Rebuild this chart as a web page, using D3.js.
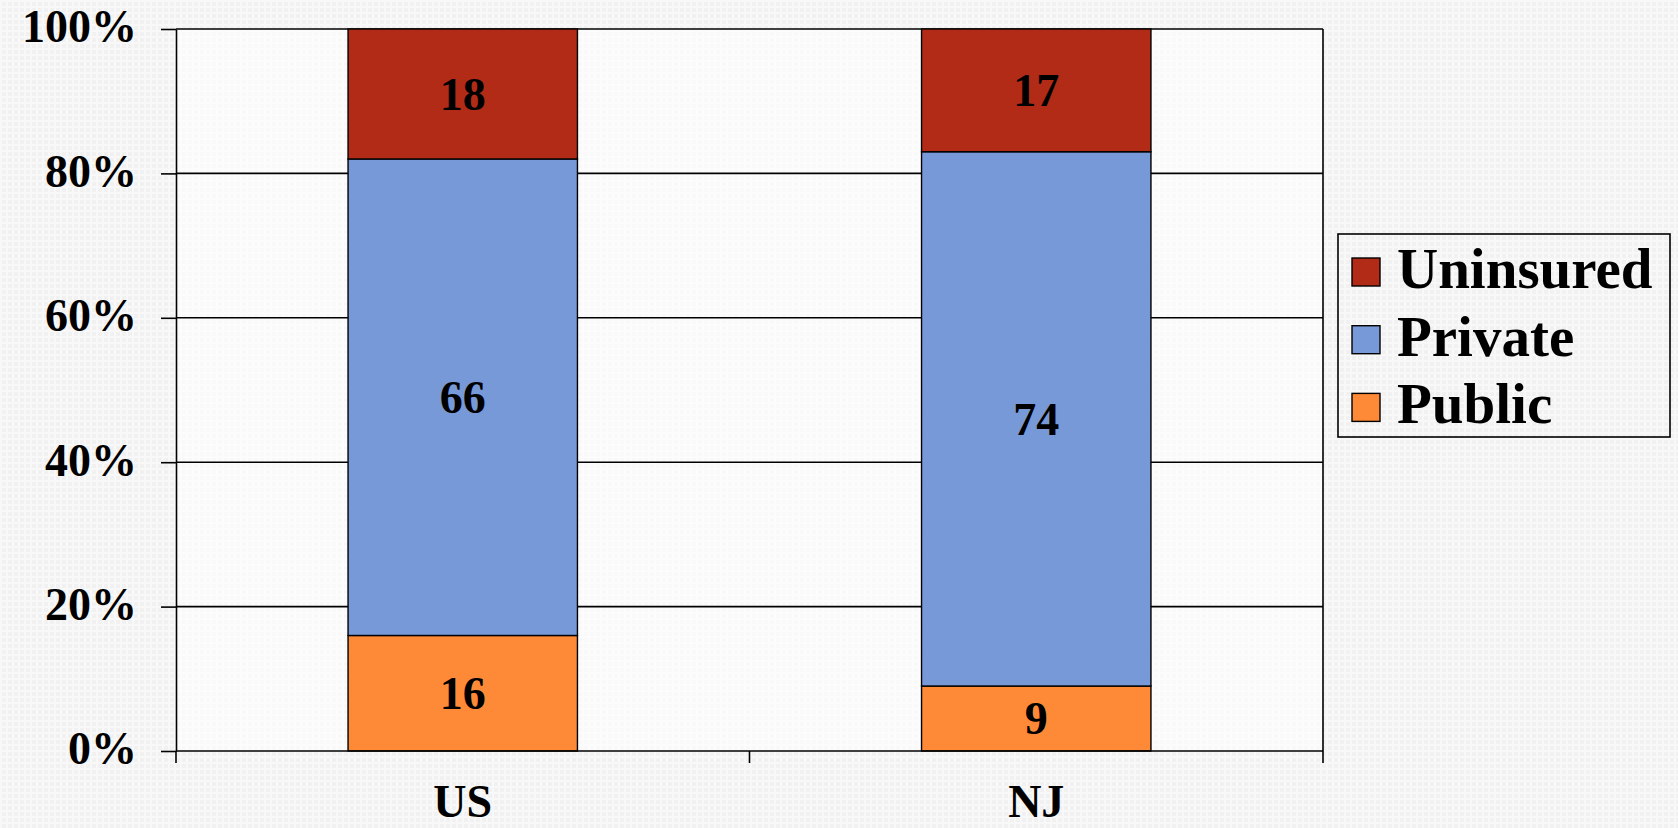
<!DOCTYPE html>
<html>
<head>
<meta charset="utf-8">
<script src="https://cdn.jsdelivr.net/npm/d3@7"></script>
<style>
  body { margin: 0; background: #f2f2f2; }
  text { font-family: "Liberation Serif", "Times New Roman", serif; font-weight: bold; fill: #000; }
</style>
</head>
<body>
<div id="chart"></div>
<script>
// data
var categories = ["US", "NJ"];
var seriesNames = ["Public", "Private", "Uninsured"];
var publicVals = [16, 9];
var privateVals = [66, 74];
var uninsuredVals = [18, 17];
var yTicks = [0, 20, 40, 60, 80, 100];
var colors = { Public: "#fe8a37", Private: "#7899d8", Uninsured: "#b22b17" };

var W = 1678, H = 828;
var margin = { top: 29, right: 355, bottom: 77, left: 176 },
    width = W - margin.left - margin.right,
    height = H - margin.top - margin.bottom;

var svgRoot = d3.select("#chart").append("svg")
    .attr("width", W)
    .attr("height", H);

// light textured background
var defs = svgRoot.append("defs");
var pat = defs.append("pattern")
    .attr("id", "tex")
    .attr("width", 6).attr("height", 6)
    .attr("patternUnits", "userSpaceOnUse");
pat.append("rect").attr("width", 6).attr("height", 6).attr("fill", "#f1f1f1");
pat.append("rect").attr("width", 6).attr("height", 2).attr("fill", "#f8f8f8");
pat.append("rect").attr("width", 2).attr("height", 6).attr("fill", "#f8f8f8");
svgRoot.append("rect").attr("width", W).attr("height", H).attr("fill", "url(#tex)");

var svg = svgRoot.append("g")
    .attr("transform", "translate(" + margin.left + "," + margin.top + ")");

// plot area
svg.append("rect")
    .attr("width", width).attr("height", height)
    .attr("fill", "#ffffff").attr("fill-opacity", 0.6);

// scales
var xSlot = d3.scaleBand().domain(categories).range([0, width]).padding(0);
var barW = xSlot.bandwidth() * 0.4;
var y = d3.scaleLinear().domain([0, 100]).range([height, 0]);

// gridlines
svg.selectAll(".grid")
    .data(yTicks.filter(function (d) { return d > 0; }))
    .enter().append("line")
    .attr("x1", 0).attr("x2", width)
    .attr("y1", function (d) { return y(d); })
    .attr("y2", function (d) { return y(d); })
    .attr("stroke", "#000").attr("stroke-width", 1.6);

// right border of plot
svg.append("line")
    .attr("x1", width).attr("x2", width)
    .attr("y1", 0).attr("y2", height)
    .attr("stroke", "#000").attr("stroke-width", 1.6);

// stacked data
var rows = categories.map(function (c, i) {
    return { cat: c, Public: publicVals[i], Private: privateVals[i], Uninsured: uninsuredVals[i] };
});
var stacked = d3.stack().keys(seriesNames)(rows);

var layers = svg.selectAll(".layer")
    .data(stacked)
    .enter().append("g")
    .attr("class", "layer")
    .attr("fill", function (d) { return colors[d.key]; });

layers.selectAll("rect")
    .data(function (d) { return d; })
    .enter().append("rect")
    .attr("x", function (d) { return xSlot(d.data.cat) + (xSlot.bandwidth() - barW) / 2; })
    .attr("width", barW)
    .attr("y", function (d) { return y(d[1]); })
    .attr("height", function (d) { return y(d[0]) - y(d[1]); })
    .attr("stroke", "#000").attr("stroke-width", 1.4);

layers.selectAll("text")
    .data(function (d) { return d.map(function (p) { p.key = d.key; return p; }); })
    .enter().append("text")
    .attr("x", function (d) { return xSlot(d.data.cat) + xSlot.bandwidth() / 2; })
    .attr("y", function (d) { return (y(d[0]) + y(d[1])) / 2; })
    .attr("dy", "0.34em")
    .attr("text-anchor", "middle")
    .style("font-size", "46px")
    .text(function (d) { return d.data[d.key]; });

// y axis
var yAxis = svg.append("g")
    .call(d3.axisLeft(y).tickValues(yTicks)
        .tickFormat(function (d) { return d + "%"; })
        .tickSize(15).tickSizeOuter(0).tickPadding(24));
yAxis.selectAll("path, line").attr("stroke", "#000").attr("stroke-width", 1.6);
yAxis.selectAll("text").style("font-size", "46px").attr("dy", "0.28em")
    .style("font-family", "'Liberation Serif', serif");

// x axis line with boundary ticks
var xAxis = svg.append("g")
    .attr("transform", "translate(0," + height + ")");
xAxis.append("line")
    .attr("x1", 0).attr("x2", width)
    .attr("stroke", "#000").attr("stroke-width", 1.6);
var bounds = categories.map(function (c) { return xSlot(c); }).concat([width]);
xAxis.selectAll(".btick")
    .data(bounds)
    .enter().append("line")
    .attr("x1", function (d) { return d; }).attr("x2", function (d) { return d; })
    .attr("y1", 0).attr("y2", 12)
    .attr("stroke", "#000").attr("stroke-width", 1.6);
xAxis.selectAll(".clabel")
    .data(categories)
    .enter().append("text")
    .attr("x", function (d) { return xSlot(d) + xSlot.bandwidth() / 2; })
    .attr("y", 66)
    .attr("text-anchor", "middle")
    .style("font-size", "46px")
    .text(function (d) { return d; });

// legend
var legend = svgRoot.append("g").attr("transform", "translate(1338,234)");
legend.append("rect")
    .attr("width", 332).attr("height", 203)
    .attr("fill", "none").attr("stroke", "#000").attr("stroke-width", 1.6);
var legendOrder = ["Uninsured", "Private", "Public"];
var items = legend.selectAll(".item")
    .data(legendOrder)
    .enter().append("g")
    .attr("transform", function (d, i) { return "translate(14," + (24 + i * 67.7) + ")"; });
items.append("rect")
    .attr("width", 28).attr("height", 28)
    .attr("fill", function (d) { return colors[d]; })
    .attr("stroke", "#000").attr("stroke-width", 1.4);
items.append("text")
    .attr("x", 45).attr("y", 30)
    .style("font-size", "57px")
    .text(function (d) { return d; });
</script>
</body>
</html>
